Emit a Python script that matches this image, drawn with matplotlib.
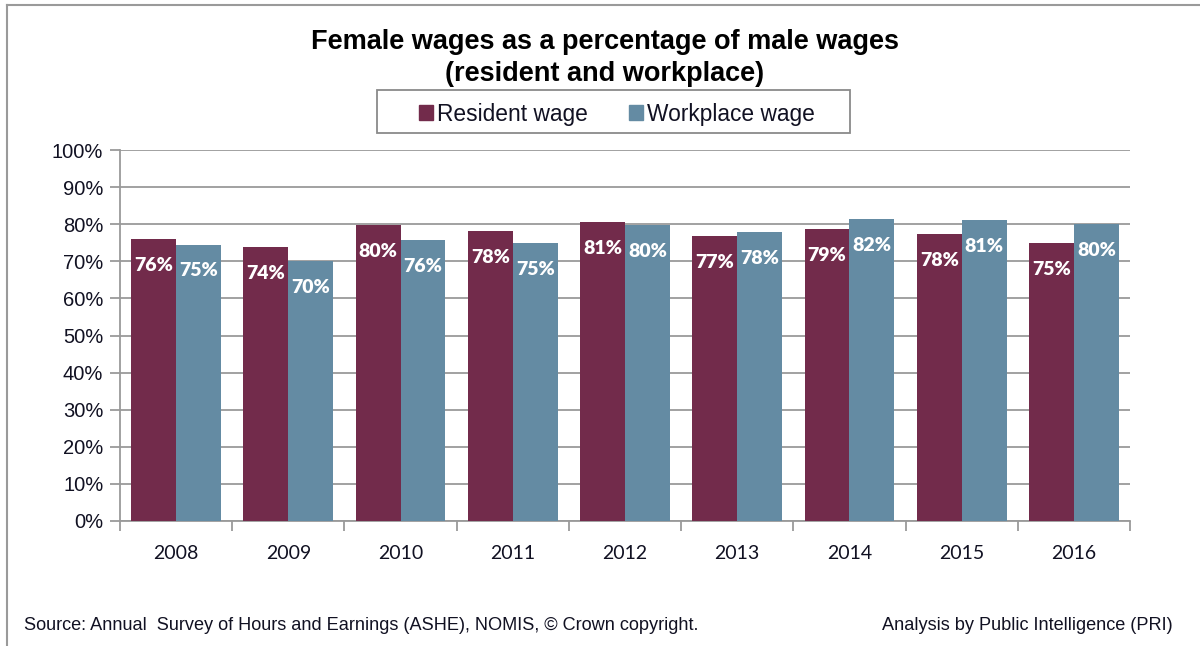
import matplotlib
matplotlib.use("Agg")
import matplotlib.pyplot as plt
from matplotlib.lines import Line2D
from matplotlib.patches import Rectangle
import numpy as np

years = ["2008", "2009", "2010", "2011", "2012", "2013", "2014", "2015", "2016"]
resident = [76.0, 73.9, 79.8, 78.2, 80.6, 76.8, 78.7, 77.4, 74.9]
workplace = [74.5, 70.1, 75.7, 74.9, 79.8, 77.9, 81.5, 81.1, 80.1]
resident_labels = ["76%", "74%", "80%", "78%", "81%", "77%", "79%", "78%", "75%"]
workplace_labels = ["75%", "70%", "76%", "75%", "80%", "78%", "82%", "81%", "80%"]
yticks = [0, 10, 20, 30, 40, 50, 60, 70, 80, 90, 100]
ytick_labels = [f"{v}%" for v in yticks]

C_RES = "#722B4B"
C_WP = "#648BA3"
GRID = "#9a9a9a"
TXT = "#111122"

fig = plt.figure(figsize=(12, 6.46), dpi=100)
ax = fig.add_axes([0.1, 0.1935, 0.8417, 0.5743])

x = np.arange(len(years))
w = 0.40
b1 = ax.bar(x - w / 2, resident, width=w, color=C_RES, zorder=3)
b2 = ax.bar(x + w / 2, workplace, width=w, color=C_WP, zorder=3)

for bars, labs in ((b1, resident_labels), (b2, workplace_labels)):
    for r, lab in zip(bars, labs):
        ax.annotate(lab, (r.get_x() + r.get_width() / 2, r.get_height()),
                    xytext=(0, -19), textcoords="offset points",
                    ha="center", va="center", color="white",
                    fontsize=14, fontweight="heavy", family="Lato", zorder=4)

ax.set_xlim(-0.5, len(years) - 0.5)
ax.set_ylim(0, 100)
ax.set_yticks(yticks)
ax.set_yticklabels(ytick_labels, fontsize=14.5, family="Liberation Sans", color=TXT)
ax.yaxis.grid(True, color=GRID, linewidth=1.3, zorder=0)
ax.set_xticks(x)
ax.set_xticklabels(years, fontsize=14, family="Lato", color=TXT)
ax.set_xticks(np.arange(-0.5, len(years)), minor=True)
ax.tick_params(axis="x", which="major", length=0, pad=17)
ax.tick_params(axis="x", which="minor", length=7, color=GRID, width=1.3)
ax.tick_params(axis="y", length=7, color=GRID, width=1.3, pad=5)
for s in ("top", "right"):
    ax.spines[s].set_visible(False)
for s in ("left", "bottom"):
    ax.spines[s].set_color(GRID)
    ax.spines[s].set_linewidth(1.3)

fig.text(0.504, 0.935, "Female wages as a percentage of male wages",
         ha="center", va="center", fontsize=19.5, fontweight="bold",
         family="Liberation Sans", color="black")
fig.text(0.504, 0.886, "(resident and workplace)",
         ha="center", va="center", fontsize=19.5, fontweight="bold",
         family="Liberation Sans", color="black")

# legend box
fig.add_artist(Rectangle((377 / 1200, 1 - 133 / 646), (850 - 377) / 1200, 43 / 646,
                         transform=fig.transFigure, fill=False,
                         edgecolor="#8a8a8a", linewidth=1.3))
handles = [plt.Rectangle((0, 0), 1, 1, color=C_RES), plt.Rectangle((0, 0), 1, 1, color=C_WP)]
leg = fig.legend(handles, ["Resident wage", "Workplace wage"], loc="center",
                 bbox_to_anchor=(617 / 1200, 1 - 114 / 646), ncol=2, frameon=False,
                 prop={"family": "Liberation Sans", "size": 16.4},
                 handlelength=0.62, handleheight=0.62, handletextpad=0.18,
                 columnspacing=1.8, borderpad=0, borderaxespad=0)
for t in leg.get_texts():
    t.set_color(TXT)

fig.text(0.02, 0.031, "Source: Annual  Survey of Hours and Earnings (ASHE), NOMIS, \u00a9 Crown copyright.",
         ha="left", va="center", fontsize=13.1, family="Liberation Sans", color=TXT)
fig.text(0.977, 0.031, "Analysis by Public Intelligence (PRI)",
         ha="right", va="center", fontsize=13.1, family="Liberation Sans", color=TXT)

# outer chart frame (top and left visible)
fig.add_artist(Line2D([0.006, 1.0], [0.992, 0.992], transform=fig.transFigure, color="#9a9a9a", lw=1.5))
fig.add_artist(Line2D([0.006, 0.006], [0.0, 0.992], transform=fig.transFigure, color="#9a9a9a", lw=1.5))

fig.savefig("out.png", dpi=100)
